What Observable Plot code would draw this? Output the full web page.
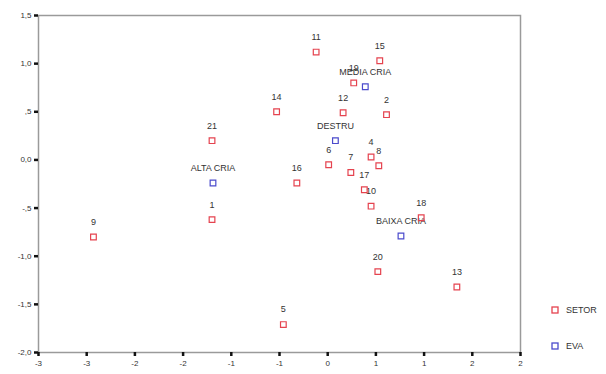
<!DOCTYPE html>
<html>
<head>
<meta charset="utf-8">
<script src="https://cdn.jsdelivr.net/npm/d3@7"></script>
<script src="https://cdn.jsdelivr.net/npm/@observablehq/plot@0.6"></script>
<style>
  body { margin: 0; background: #fff; font-family: "Liberation Sans", Arial, sans-serif; }
  #wrap { position: relative; width: 606px; height: 374px; }
  .leg { position: absolute; font-size: 9px; color: #333; display: flex; align-items: center; }
  .leg svg { margin-right: 7px; }
</style>
</head>
<body>
<div id="wrap"></div>
<script>
// SETOR points
const setorIds = ["1","2","4","5","6","7","8","9","10","11","12","13","14","15","16","17","18","19","20","21"];
const setorX = [-1.20, 0.61, 0.45, -0.46, 0.01, 0.24, 0.53, -2.43, 0.45, -0.12, 0.16, 1.34, -0.53, 0.54, -0.32, 0.38, 0.97, 0.27, 0.52, -1.20];
const setorY = [-0.62, 0.47, 0.03, -1.71, -0.05, -0.13, -0.06, -0.80, -0.48, 1.12, 0.49, -1.32, 0.50, 1.03, -0.24, -0.31, -0.60, 0.80, -1.16, 0.20];
// EVA points
const evaIds = ["ALTA CRIA", "DESTRU", "MEDIA CRIA", "BAIXA CRIA"];
const evaX = [-1.19, 0.08, 0.39, 0.76];
const evaY = [-0.24, 0.20, 0.76, -0.79];
// ticks
const xTicks = [-3, -2.5, -2, -1.5, -1, -0.5, 0, 0.5, 1, 1.5, 2];
const xTickLabels = ["-3","-3","-2","-2","-1","-1","0","1","1","2","2"];
const yTicks = [-2, -1.5, -1, -0.5, 0, 0.5, 1, 1.5];
const yTickLabels = ["-2,0","-1,5","-1,0","-,5","0,0",",5","1,0","1,5"];
const seriesNames = ["SETOR", "EVA"];
const seriesColors = ["#e5434f", "#4b4bcc"];

const setor = setorIds.map((id, i) => ({id, x: setorX[i], y: setorY[i], s: "SETOR"}));
const eva = evaIds.map((id, i) => ({id, x: evaX[i], y: evaY[i], s: "EVA"}));
const all = setor.concat(eva);
const xTickData = xTicks.map((v, i) => ({v, label: xTickLabels[i]}));

const chart = Plot.plot({
  width: 606,
  height: 374,
  marginLeft: 38,
  marginRight: 86,
  marginTop: 15,
  marginBottom: 22,
  style: {fontFamily: "Liberation Sans, Arial, sans-serif", fontSize: "8px", color: "#333", background: "#fff"},
  x: {domain: [-3, 2], label: null},
  y: {domain: [-2, 1.5], label: null},
  color: {domain: seriesNames, range: seriesColors},
  marks: [
    Plot.frame({stroke: "#9a9a9a", strokeWidth: 1.5}),
    Plot.axisX(xTicks, {tickFormat: () => "", tickSize: 4, strokeWidth: 2.5, stroke: "#111", label: null}),
    Plot.text(xTickData, {x: "v", text: "label", frameAnchor: "bottom", lineAnchor: "top", dy: 8, fontSize: 8, fill: "#333"}),
    Plot.axisY(yTicks, {tickFormat: d => yTickLabels[yTicks.indexOf(d)], tickSize: 4, tickPadding: 3, strokeWidth: 2.5, stroke: "#111", fill: "#333", label: null}),
    Plot.text(all, {x: "x", y: "y", text: "id", dy: -15, fontSize: 9, fill: "#333"}),
    Plot.dot(all, {x: "x", y: "y", symbol: "square", r: 3.2, stroke: "s", fill: "none", strokeWidth: 1.2})
  ]
});

const wrap = document.getElementById("wrap");
wrap.appendChild(chart);
const tops = [305, 341];
seriesNames.forEach((n, i) => {
  const d = document.createElement("div");
  d.className = "leg";
  d.style.left = "551px";
  d.style.top = tops[i] + "px";
  d.innerHTML = `<svg width="8" height="8"><rect x="1" y="1" width="6" height="6" fill="#fff" stroke="${seriesColors[i]}" stroke-width="1.3"/></svg>`;
  d.appendChild(document.createTextNode(n));
  wrap.appendChild(d);
});
</script>
</body>
</html>
